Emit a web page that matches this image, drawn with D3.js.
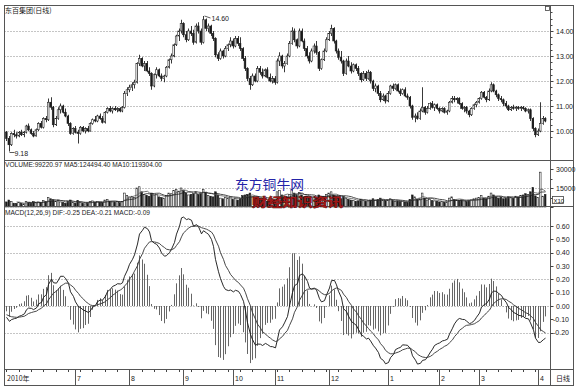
<!DOCTYPE html>
<html><head><meta charset="utf-8">
<script src="https://cdn.jsdelivr.net/npm/d3@7/dist/d3.min.js"></script>
<style>body{margin:0;background:#fff}svg{display:block}</style>
</head><body><svg id="c" width="579" height="387"></svg>
<script>
// ---------------- DATA ----------------
const chartTitle = "东百集团(日线)";
const volumeLabel = "VOLUME:99220.97  MA5:124494.40  MA10:119304.00";
const macdLabel = "MACD(12,26,9)  DIF:-0.25  DEA:-0.21  MACD:-0.09";
const watermark1 = "东方铜牛网";
const watermark2 = "财经知识资讯";
// daily candles [open, high, low, close]
const ohlc = [
 // June 2010 (i0-27)
 [9.95,10.0,9.6,9.7],[9.7,9.8,9.18,9.45],[9.45,9.95,9.4,9.9],[9.9,10.05,9.75,9.85],[9.85,9.95,9.7,9.8],
 [9.8,10.0,9.75,9.95],[9.95,10.05,9.8,9.85],[9.85,10.0,9.75,9.95],[9.95,10.25,9.9,10.2],[10.2,10.3,10.0,10.05],
 [10.05,10.1,9.85,9.9],[9.9,10.0,9.75,9.8],[9.8,10.1,9.78,10.05],[10.05,10.35,10.0,10.3],[10.3,10.4,10.1,10.15],
 [10.15,10.55,10.1,10.5],[10.5,10.6,10.35,10.45],[10.45,11.3,10.4,11.15],[11.15,11.35,10.85,10.95],[10.95,11.0,10.15,10.25],
 [10.25,10.6,10.2,10.5],[10.5,10.95,10.45,10.85],[10.85,11.1,10.7,11.0],[11.0,11.05,10.7,10.75],[10.75,10.9,10.55,10.6],
 [10.6,10.65,10.2,10.3],[10.3,10.35,9.85,9.9],[9.9,10.15,9.85,10.1],
 // July (i28-49)
 [10.1,10.2,9.9,9.95],[9.95,10.05,9.5,9.9],[9.9,10.2,9.85,10.15],[10.15,10.2,9.95,10.0],[10.0,10.15,9.9,10.1],
 [10.1,10.2,9.95,10.0],[10.0,10.35,9.98,10.3],[10.3,10.5,10.25,10.45],[10.45,10.6,10.35,10.4],[10.4,10.65,10.35,10.6],
 [10.6,10.7,10.45,10.5],[10.5,10.6,10.3,10.35],[10.35,10.8,10.3,10.75],[10.75,10.95,10.7,10.9],[10.9,11.0,10.75,10.8],
 [10.8,10.95,10.7,10.9],[10.9,11.0,10.8,10.85],[10.85,10.95,10.75,10.9],[10.9,10.95,10.75,10.8],[10.8,11.0,10.75,10.95],
 [10.95,11.6,10.9,11.5],[11.5,11.75,11.4,11.65],
 // August (i50-71)
 [11.65,11.85,11.55,11.75],[11.75,11.95,11.6,11.85],[11.85,12.05,11.7,11.95],[11.95,12.75,11.9,12.7],[12.7,13.05,12.6,12.9],
 [12.9,12.95,12.55,12.6],[12.6,12.8,12.4,12.7],[12.7,12.8,12.35,12.4],[12.4,12.55,12.2,12.3],[12.3,12.35,11.65,11.8],
 [11.8,12.3,11.75,12.25],[12.25,12.55,12.1,12.45],[12.45,12.5,12.15,12.2],[12.2,12.3,12.0,12.1],[12.1,12.25,11.95,12.2],
 [12.2,12.6,12.15,12.55],[12.55,12.9,12.5,12.85],[12.85,13.1,12.7,13.0],[13.0,13.5,12.95,13.45],[13.45,13.85,13.4,13.8],
 [13.8,14.1,13.6,14.0],[14.0,14.45,13.9,14.3],
 // September (i72-91)
 [14.3,14.35,13.75,13.85],[13.85,14.0,13.55,13.65],[13.65,14.1,13.6,14.0],[14.0,14.2,13.8,13.9],[13.9,14.05,13.45,13.55],
 [13.55,14.3,13.5,14.2],[14.2,14.35,13.9,14.0],[14.0,14.1,13.45,13.55],[13.55,14.6,13.5,14.45],[14.45,14.5,14.0,14.1],
 [14.1,14.3,13.95,14.2],[14.2,14.25,13.8,13.9],[13.9,14.0,13.6,13.7],[13.7,13.75,12.95,13.05],[13.05,13.15,12.8,12.9],
 [12.9,13.3,12.85,13.2],[13.2,13.25,12.9,13.0],[13.0,13.4,12.95,13.3],[13.3,13.5,13.2,13.45],[13.45,13.75,13.35,13.6],
 // October (i92-108)
 [13.6,13.7,13.3,13.4],[13.4,13.8,13.35,13.7],[13.7,13.8,13.4,13.5],[13.5,13.75,13.2,13.3],[13.3,13.35,12.8,12.9],
 [12.9,13.0,12.4,12.5],[12.5,12.55,12.0,12.1],[12.1,12.2,11.65,11.85],[11.85,12.3,11.8,12.2],[12.2,12.3,11.95,12.0],
 [12.0,12.6,11.95,12.5],[12.5,12.6,12.25,12.35],[12.35,12.5,12.1,12.2],[12.2,12.5,12.15,12.45],[12.45,12.55,12.1,12.15],
 [12.15,12.3,11.95,12.0],[12.0,12.2,11.9,12.1],
 // November (i109-130)
 [12.1,12.2,11.85,11.95],[11.95,12.9,11.9,12.8],[12.8,13.15,12.6,13.0],[13.0,13.05,12.5,12.6],[12.6,12.8,12.35,12.7],
 [12.7,13.1,12.65,13.0],[13.0,13.6,12.95,13.5],[13.5,14.15,13.45,14.0],[14.0,14.1,13.55,13.65],[13.65,13.7,13.3,13.4],
 [13.4,14.1,13.35,14.0],[14.0,14.1,13.55,13.6],[13.6,13.7,13.2,13.3],[13.3,13.4,12.9,13.0],[13.0,13.15,12.7,12.8],
 [12.8,13.3,12.75,13.2],[13.2,13.5,13.1,13.4],[13.4,13.6,13.05,13.15],[13.15,13.2,12.4,12.5],[12.5,12.9,12.45,12.85],
 [12.85,13.3,12.8,13.2],[13.2,13.75,13.15,13.65],
 // December (i131-154)
 [13.65,14.0,13.6,13.9],[13.9,14.25,13.8,14.1],[14.1,14.15,13.5,13.6],[13.6,13.65,13.1,13.2],[13.2,13.3,12.85,12.95],
 [12.95,13.2,12.7,12.8],[12.8,12.85,12.2,12.3],[12.3,12.9,12.25,12.8],[12.8,13.0,12.55,12.6],[12.6,12.75,12.3,12.4],
 [12.4,12.7,12.35,12.65],[12.65,12.7,12.4,12.5],[12.5,12.6,12.2,12.3],[12.3,12.35,11.95,12.05],[12.05,12.4,12.0,12.3],
 [12.3,12.4,12.0,12.1],[12.1,12.45,12.05,12.35],[12.35,12.4,11.9,12.0],[12.0,12.05,11.6,11.7],[11.7,11.9,11.55,11.8],
 [11.8,11.85,11.4,11.5],[11.5,11.6,11.15,11.25],[11.25,11.5,11.2,11.4],[11.4,11.45,11.1,11.2],
 // January 2011 (i155-175)
 [11.2,11.6,11.15,11.5],[11.5,11.85,11.45,11.8],[11.8,11.9,11.6,11.7],[11.7,11.9,11.65,11.85],[11.85,11.9,11.55,11.6],
 [11.6,11.7,11.4,11.5],[11.5,11.7,11.45,11.65],[11.65,11.75,11.35,11.4],[11.4,11.5,11.25,11.35],[11.35,11.4,10.9,11.0],
 [11.0,11.05,10.45,10.55],[10.55,10.7,10.35,10.6],[10.6,10.75,10.45,10.5],[10.5,10.9,10.45,10.8],[10.8,11.75,10.75,10.95],
 [10.95,11.0,10.65,10.75],[10.75,11.0,10.7,10.9],[10.9,11.15,10.85,11.1],[11.1,11.2,10.9,10.95],[10.95,11.1,10.8,11.05],
 [11.05,11.1,10.85,10.9],
 // February (i176-191)
 [10.9,10.95,10.7,10.8],[10.8,10.95,10.75,10.9],[10.9,10.95,10.7,10.75],[10.75,10.85,10.65,10.8],[10.8,11.2,10.75,11.15],
 [11.15,11.4,11.1,11.3],[11.3,11.4,11.15,11.25],[11.25,11.35,11.1,11.3],[11.3,11.35,11.05,11.1],[11.1,11.15,10.85,10.9],
 [10.9,11.0,10.75,10.95],[10.95,11.0,10.7,10.8],[10.8,10.85,10.55,10.65],[10.65,10.95,10.6,10.9],[10.9,11.1,10.85,11.05],
 [11.05,11.2,10.95,11.15],
 // March (i192-215)
 [11.15,11.35,11.1,11.3],[11.3,11.6,11.25,11.55],[11.55,11.6,11.3,11.35],[11.35,11.4,11.15,11.25],[11.25,11.7,11.2,11.6],
 [11.6,11.95,11.55,11.85],[11.85,11.9,11.55,11.6],[11.6,11.65,11.35,11.45],[11.45,11.5,11.2,11.3],[11.3,11.4,11.15,11.25],
 [11.25,11.3,11.0,11.1],[11.1,11.2,10.9,11.0],[11.0,11.05,10.8,10.85],[10.85,11.0,10.8,10.95],[10.95,11.05,10.85,10.9],
 [10.9,11.0,10.8,10.95],[10.95,11.0,10.85,10.9],[10.9,11.0,10.8,10.95],[10.95,11.0,10.85,10.9],[10.9,10.95,10.75,10.8],
 [10.8,10.9,10.7,10.85],[10.85,10.9,10.4,10.5],[10.5,10.55,10.0,10.1],[10.1,10.15,9.75,9.85],
 // April (i216-219)
 [9.85,10.1,9.8,10.0],[10.0,11.15,9.95,10.3],[10.3,10.6,10.25,10.5],[10.5,10.55,10.35,10.4]
];
const volumes = [
 40000,55000,45000,30000,28000,35000,30000,25000,45000,38000,30000,42000,35000,
 40000,35000,50000,42000,75000,65000,60000,45000,50000,40000,35000,30000,45000,55000,35000,
 30000,50000,38000,28000,25000,30000,42000,48000,40000,45000,38000,35000,55000,60000,45000,40000,38000,42000,35000,45000,110000,90000,
 80000,85000,75000,150000,160000,120000,100000,90000,85000,110000,95000,100000,80000,75000,70000,90000,110000,105000,130000,140000,125000,150000,
 130000,110000,95000,100000,105000,120000,100000,110000,140000,115000,90000,85000,80000,120000,95000,70000,65000,75000,70000,80000,
 60000,70000,55000,65000,90000,95000,100000,110000,80000,60000,75000,65000,55000,50000,45000,50000,45000,
 50000,120000,130000,95000,80000,85000,100000,140000,110000,90000,115000,95000,80000,85000,70000,75000,80000,70000,95000,80000,85000,100000,
 110000,120000,95000,80000,70000,65000,85000,70000,60000,55000,50000,45000,48000,60000,50000,45000,48000,55000,65000,55000,60000,70000,55000,50000,
 55000,65000,50000,45000,48000,42000,45000,40000,38000,60000,95000,80000,60000,65000,110000,70000,55000,60000,50000,48000,45000,
 40000,42000,38000,40000,70000,80000,60000,55000,50000,55000,48000,45000,50000,55000,65000,70000,
 75000,90000,70000,65000,85000,110000,95000,80000,70000,75000,65000,70000,80000,75000,70000,85000,80000,90000,
 95000,105000,98000,120000,152568,
 88000,75000,275000,85251.03,99220.97
];
const monthLabels = ["2010年","7","8","9","10","11","12","1","2","3","4"];
const monthStarts = [0,28,50,72,92,109,131,155,176,192,216];
const priceTicks = [10,11,12,13,14];
const volTickLabels = [[150000,"15000"],[300000,"30000"]];
const macdTicks = [-0.2,-0.1,0,0.1,0.2,0.3,0.4,0.5,0.6];
const macdGrid = [-0.2,0,0.2,0.4,0.6];
const macdSeed = {ema12: 9.95, ema26: 10.02, dea: -0.06};

// ---------------- DRAW ----------------
const svg = d3.select("#c");
const font = "'Liberation Sans', Arial, sans-serif";
const cjk = "'Noto Sans CJK SC', sans-serif";
const AX = 550, LEFT = 4.5, RIGHT = 573.5, TOP = 5.5, BOT = 385.5;
const x = d3.scaleBand().domain(d3.range(ohlc.length)).range([5.5, 546]).paddingInner(0.32);
const cx = i => Math.round(x(i) + x.bandwidth()/2) + 0.5;
const yP = d3.scaleLinear().domain([10,14]).range([131,31]);
const yV = d3.scaleLinear().domain([0,300000]).range([207,169]);
const yM = d3.scaleLinear().domain([0,0.6]).range([306,226]);

const dot = {stroke:"#8a8a8a", dash:"1,2"};
function hgrid(y){ svg.append("line").attr("x1",LEFT).attr("x2",AX).attr("y1",Math.round(y)+0.5).attr("y2",Math.round(y)+0.5)
  .attr("stroke",dot.stroke).attr("stroke-width",1).attr("stroke-dasharray",dot.dash); }
priceTicks.forEach(p=>hgrid(yP(p)));
hgrid(yV(150000));
macdGrid.forEach(v=>hgrid(yM(v)));

// candles
const cg = svg.append("g");
ohlc.forEach((d,i)=>{
  const [o,h,l,c] = d; const up = c >= o;
  cg.append("line").attr("x1",cx(i)).attr("x2",cx(i)).attr("y1",yP(h)).attr("y2",yP(l)).attr("stroke","#222").attr("stroke-width",0.9);
  const top = yP(Math.max(o,c)), bot = yP(Math.min(o,c));
  cg.append("rect").attr("x",x(i)).attr("width",x.bandwidth()).attr("y",top).attr("height",Math.max(0.8,bot-top))
    .attr("fill", up ? "#fff" : "#1a1a1a").attr("stroke","#222").attr("stroke-width",0.6);
});
// max / min markers
let hi = d3.maxIndex(ohlc, d=>d[1]), lo = d3.minIndex(ohlc, d=>d[2]);
svg.append("line").attr("x1",cx(hi)+1).attr("y1",yP(ohlc[hi][1])).attr("x2",cx(hi)+7).attr("y2",yP(ohlc[hi][1])+2).attr("stroke","#333").attr("stroke-width",0.8);
svg.append("text").attr("x",cx(hi)+8).attr("y",yP(ohlc[hi][1])+5).text(ohlc[hi][1].toFixed(2)).attr("font-family",font).attr("font-size",7).attr("fill","#222");
svg.append("line").attr("x1",cx(lo)).attr("y1",yP(ohlc[lo][2])+1).attr("x2",cx(lo)+5).attr("y2",yP(ohlc[lo][2])+1).attr("stroke","#333").attr("stroke-width",0.8);
svg.append("text").attr("x",cx(lo)+5).attr("y",yP(ohlc[lo][2])+4).text(ohlc[lo][2].toFixed(2)).attr("font-family",font).attr("font-size",7).attr("fill","#222");

// volume bars
const vg = svg.append("g");
volumes.forEach((v,i)=>{
  const [o,,,c] = ohlc[i]; const up = c>=o;
  vg.append("rect").attr("x",x(i)).attr("width",x.bandwidth()).attr("y",yV(v)).attr("height",yV(0)-yV(v))
    .attr("fill", up ? "#fff" : "#1a1a1a").attr("stroke","#222").attr("stroke-width",0.6);
});
function ma(arr,n){ return arr.map((v,i)=> i<n-1 ? null : d3.mean(arr.slice(i-n+1,i+1))); }
const ma5 = ma(volumes,5), ma10 = ma(volumes,10);
const vline = d3.line().defined(d=>d!=null).x((d,i)=>cx(i)).y(d=>yV(d));
svg.append("path").datum(ma5).attr("d",vline).attr("fill","none").attr("stroke","#555").attr("stroke-width",0.8);
svg.append("path").datum(ma10).attr("d",vline).attr("fill","none").attr("stroke","#222").attr("stroke-width",0.8);

// MACD
let e12 = macdSeed.ema12, e26 = macdSeed.ema26, dea = macdSeed.dea;
const macd = ohlc.map(d=>{ const c=d[3]; e12 = e12*11/13 + c*2/13; e26 = e26*25/27 + c*2/27; const dif=e12-e26; dea = dea*0.8 + dif*0.2; return {dif, dea, bar:2*(dif-dea)}; });
const mg = svg.append("g");
macd.forEach((m,i)=>{
  mg.append("line").attr("x1",cx(i)).attr("x2",cx(i)).attr("y1",yM(0)).attr("y2",yM(m.bar)).attr("stroke","#555").attr("stroke-width",0.9);
});
const mline = key => d3.line().x((d,i)=>cx(i)).y(d=>yM(d[key])).curve(d3.curveLinear);
svg.append("path").datum(macd).attr("d",mline("dif")).attr("fill","none").attr("stroke","#111").attr("stroke-width",0.9);
svg.append("path").datum(macd).attr("d",mline("dea")).attr("fill","none").attr("stroke","#333").attr("stroke-width",0.9);

// frame & separators
const frame = svg.append("g").attr("stroke","#555").attr("stroke-width",1).attr("fill","none");
frame.append("rect").attr("x",LEFT).attr("y",TOP).attr("width",RIGHT-LEFT).attr("height",BOT-TOP);
frame.append("line").attr("x1",AX+0.5).attr("x2",AX+0.5).attr("y1",TOP).attr("y2",BOT);
[160.5,206.5,369.5].forEach(y=>frame.append("line").attr("x1",LEFT).attr("x2",RIGHT).attr("y1",y).attr("y2",y));

// right axes
const ax = svg.append("g").attr("font-family",font).attr("font-size",7).attr("fill","#222");
function tick(y,len){ svg.append("line").attr("x1",AX+0.5).attr("x2",AX+0.5+len).attr("y1",Math.round(y)+0.5).attr("y2",Math.round(y)+0.5).attr("stroke","#444").attr("stroke-width",1); }
d3.range(9.75,14.76,0.25).forEach(p=>{ const y=yP(p); if(y>8&&y<158) tick(y, Math.abs(p-Math.round(p))<1e-6?3:2); });
priceTicks.forEach(p=> ax.append("text").attr("x",556).attr("y",yP(p)+2.5).text(p.toFixed(2)));
[0,75000,150000,225000,300000].forEach(v=>tick(yV(v), v%150000===0?3:2));
volTickLabels.forEach(([v,t])=> ax.append("text").attr("x",556).attr("y",yV(v)+2.5).text(t));
svg.append("rect").attr("x",552.5).attr("y",196.5).attr("width",11).attr("height",7).attr("fill","none").attr("stroke","#444").attr("stroke-width",0.8);
ax.append("text").attr("x",553.5).attr("y",202.5).attr("font-size",6).text("X10");
macdTicks.forEach(v=>{ tick(yM(v),3); ax.append("text").attr("x",v<0?553:556).attr("y",yM(v)+2.5).text(v.toFixed(2)); });

// top-right small box
svg.append("rect").attr("x",545.5).attr("y",6.5).attr("width",4).attr("height",4).attr("fill","none").attr("stroke","#444").attr("stroke-width",0.8);

// date axis
const dg = svg.append("g");
d3.range(0, ohlc.length, 5).forEach(i=> dg.append("line").attr("x1",cx(i)).attr("x2",cx(i)).attr("y1",370).attr("y2",372).attr("stroke","#444"));
monthStarts.forEach((s,k)=>{
  const xx = k===0 ? 5.5 : cx(s);
  if(k>0) dg.append("line").attr("x1",xx).attr("x2",xx).attr("y1",370).attr("y2",385).attr("stroke","#555");
  dg.append("text").attr("x",xx+1.5).attr("y",381).text(monthLabels[k])
    .attr("font-family", k===0?cjk:font).attr("font-size",7).attr("fill","#222");
});
svg.append("text").attr("x",556).attr("y",381).text("日线").attr("font-family",cjk).attr("font-size",7).attr("fill","#222");

// labels
svg.append("text").attr("x",5).attr("y",13).text(chartTitle).attr("font-family",cjk).attr("font-size",7).attr("fill","#222");
svg.append("text").attr("x",5).attr("y",167).text(volumeLabel).attr("font-family",font).attr("font-size",6.5).attr("fill","#222").attr("textLength",157).attr("lengthAdjust","spacingAndGlyphs");
svg.append("text").attr("x",5).attr("y",214.5).text(macdLabel).attr("font-family",font).attr("font-size",6.5).attr("fill","#222").attr("textLength",145).attr("lengthAdjust","spacingAndGlyphs");

// watermark
svg.append("text").attr("x",235).attr("y",188.5).text(watermark1).attr("font-family",cjk).attr("font-size",13).attr("fill","#2424a8").attr("textLength",69).attr("lengthAdjust","spacingAndGlyphs");
svg.append("text").attr("x",252).attr("y",206.5).text(watermark2).attr("font-family",cjk).attr("font-size",12).attr("font-weight","bold")
  .attr("fill","#a01818").attr("stroke","#3a0000").attr("stroke-width",0.6).attr("paint-order","stroke").attr("textLength",91).attr("lengthAdjust","spacingAndGlyphs");
</script></body></html>
